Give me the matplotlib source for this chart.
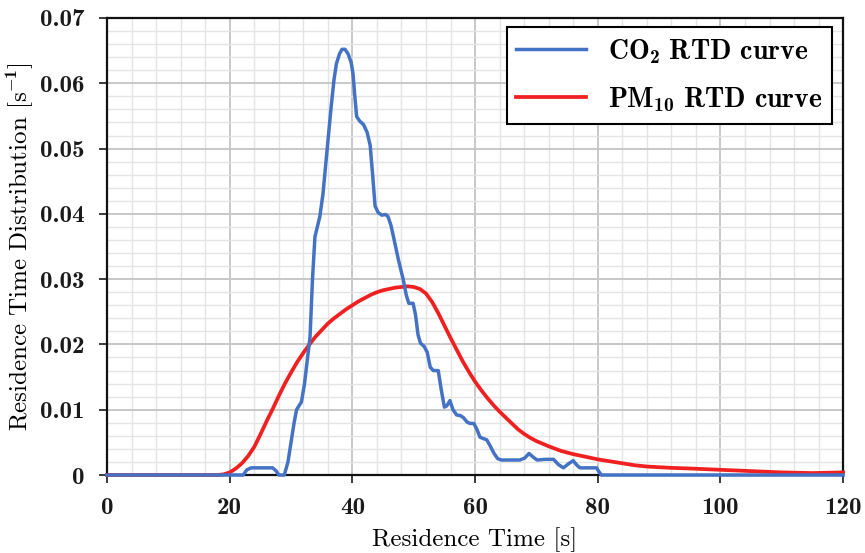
import matplotlib
matplotlib.use("Agg")
import matplotlib.pyplot as plt
from matplotlib.ticker import MultipleLocator

plt.rcParams['font.family'] = ['cmb10', 'DejaVu Serif']
plt.rcParams['mathtext.fontset'] = 'custom'
plt.rcParams['mathtext.rm'] = 'cmb10'
plt.rcParams['mathtext.bf'] = 'cmb10'
plt.rcParams['axes.unicode_minus'] = False

# CO2 residence time distribution
co2_t = [0, 22.2, 22.8, 23.5, 27.0, 27.6, 28.0, 28.9, 29.5, 30.0, 30.5, 30.9,
         31.7, 32.2, 32.7, 33.1, 33.5, 33.9, 34.7, 35.2, 35.8, 36.5, 37.0,
         37.4, 37.9, 38.3, 38.8, 39.3, 39.8, 40.1, 40.4, 40.7, 41.2, 41.8,
         42.4, 42.9, 43.3, 43.7, 44.2, 44.8, 45.4, 45.8, 46.3, 46.7, 47.5,
         48.3, 48.8, 49.2, 49.9, 50.3, 50.7, 51.1, 51.7, 52.2, 52.7, 53.2,
         54.0, 54.5, 55.0, 55.4, 55.9, 56.4, 57.0, 57.6, 58.1, 58.7, 59.2,
         59.8, 60.3, 60.8, 61.3, 61.9, 62.5, 63.1, 63.7, 64.3, 67.3, 68.1,
         68.8, 69.4, 70.1, 71.5, 72.8, 73.6, 74.4, 75.2, 76.0, 76.6, 77.1,
         79.8, 80.2, 80.6, 120]
co2_v = [0, 0, 0.0008, 0.0011, 0.0011, 0.0006, 0.0, 0.0, 0.0020, 0.0050,
         0.0080, 0.0100, 0.0112, 0.0140, 0.0180, 0.0212, 0.0300, 0.0365,
         0.0396, 0.0430, 0.0490, 0.0560, 0.0605, 0.0630, 0.0645, 0.0652,
         0.0652, 0.0645, 0.0632, 0.0615, 0.0580, 0.0549, 0.0542, 0.0537,
         0.0525, 0.0505, 0.0460, 0.0412, 0.0402, 0.0398, 0.0399, 0.0396,
         0.0382, 0.0365, 0.0330, 0.0299, 0.0275, 0.0263, 0.0263, 0.0245,
         0.0215, 0.0202, 0.0197, 0.0188, 0.0165, 0.0160, 0.0160, 0.0130,
         0.0104, 0.0106, 0.0114, 0.0100, 0.0092, 0.0091, 0.0088, 0.0081,
         0.0079, 0.0079, 0.0070, 0.0058, 0.0056, 0.0054, 0.0044, 0.0033,
         0.0025, 0.0023, 0.0023, 0.0026, 0.0033, 0.0028, 0.0023, 0.0024,
         0.0024, 0.0016, 0.0011, 0.0017, 0.0022, 0.0015, 0.0011, 0.0011,
         0.0005, 0.0, 0.0]

# PM10 residence time distribution
pm_t = [0, 18, 19, 20, 21, 22, 23, 24, 25, 26, 27, 28, 29, 30, 31, 32, 33,
        34, 35, 36, 37, 38, 39, 40, 41, 42, 43, 44, 45, 46, 47, 48, 49, 50,
        51, 52, 53, 54, 55, 56, 57, 58, 59, 60, 61, 62, 63, 64, 65, 66, 67,
        68, 69, 70, 72, 74, 76, 78, 80, 82, 84, 86, 88, 90, 92, 95, 100, 105,
        110, 115, 120]
pm_v = [0, 0, 0.0001, 0.0004, 0.0010, 0.0018, 0.0029, 0.0043, 0.0062,
        0.0082, 0.0101, 0.0121, 0.0140, 0.0157, 0.0173, 0.0187, 0.0200,
        0.0212, 0.0222, 0.0232, 0.0240, 0.0247, 0.0254, 0.0260, 0.0266,
        0.0271, 0.0276, 0.0280, 0.0283, 0.0285, 0.0287, 0.0288, 0.0289,
        0.0288, 0.0285, 0.0278, 0.0265, 0.0248, 0.0229, 0.0210, 0.0192,
        0.0174, 0.0158, 0.0143, 0.0130, 0.0118, 0.0107, 0.0097, 0.0088,
        0.0079, 0.0070, 0.0063, 0.0057, 0.0052, 0.0044, 0.0037, 0.0032,
        0.0028, 0.0024, 0.0021, 0.0018, 0.0015, 0.0013, 0.0012, 0.0011,
        0.0010, 0.0008, 0.0006, 0.0004, 0.0003, 0.0004]

y_ticks = [0, 0.01, 0.02, 0.03, 0.04, 0.05, 0.06, 0.07]
y_tick_labels = ['0', '0.01', '0.02', '0.03', '0.04', '0.05', '0.06', '0.07']

fig = plt.figure(figsize=(8.65, 5.53), dpi=100)
ax = fig.add_axes([0.1237, 0.141, 0.851, 0.8265])

l1, = ax.plot(co2_t, co2_v, color='#4472C4', lw=2.5, zorder=4, clip_on=False,
              solid_joinstyle='round', label='CO$_2$ RTD curve')
l2, = ax.plot(pm_t, pm_v, color='#F02020', lw=2.7, zorder=3, clip_on=False,
              solid_joinstyle='round', label='PM$_{10}$ RTD curve')

ax.set_xlim(0, 120)
ax.set_ylim(0, 0.07)
ax.xaxis.set_major_locator(MultipleLocator(20))
ax.xaxis.set_minor_locator(MultipleLocator(4))
ax.set_yticks(y_ticks)
ax.set_yticklabels(y_tick_labels)
ax.yaxis.set_minor_locator(MultipleLocator(0.002))

ax.grid(which='major', color='#c8c8c8', lw=1.4)
ax.grid(which='minor', color='#e4e4e4', lw=1.0)
ax.set_axisbelow(True)
ax.tick_params(which='major', direction='out', length=6, width=1.2,
               labelsize=18, colors='#1a1a1a', pad=10)
ax.tick_params(which='minor', length=0)
for s in ax.spines.values():
    s.set_linewidth(1.6)
    s.set_color('#111111')

ax.set_xlabel('Residence Time [s]', fontsize=18, family=['cmr10', 'DejaVu Serif'],
              labelpad=6)
ax.set_ylabel('Residence Time Distribution [s$^{-1}$]', fontsize=18,
              family=['cmr10', 'DejaVu Serif'], labelpad=3)

leg = ax.legend(handles=[l1, l2], loc='upper right', fontsize=20, frameon=True,
                fancybox=False, edgecolor='black', framealpha=1,
                handlelength=2.5, borderpad=0.35, labelspacing=0.7,
                handletextpad=0.8, borderaxespad=0,
                bbox_to_anchor=(0.985, 0.98))
leg.get_frame().set_linewidth(1.5)

fig.savefig('out.png', dpi=100)
